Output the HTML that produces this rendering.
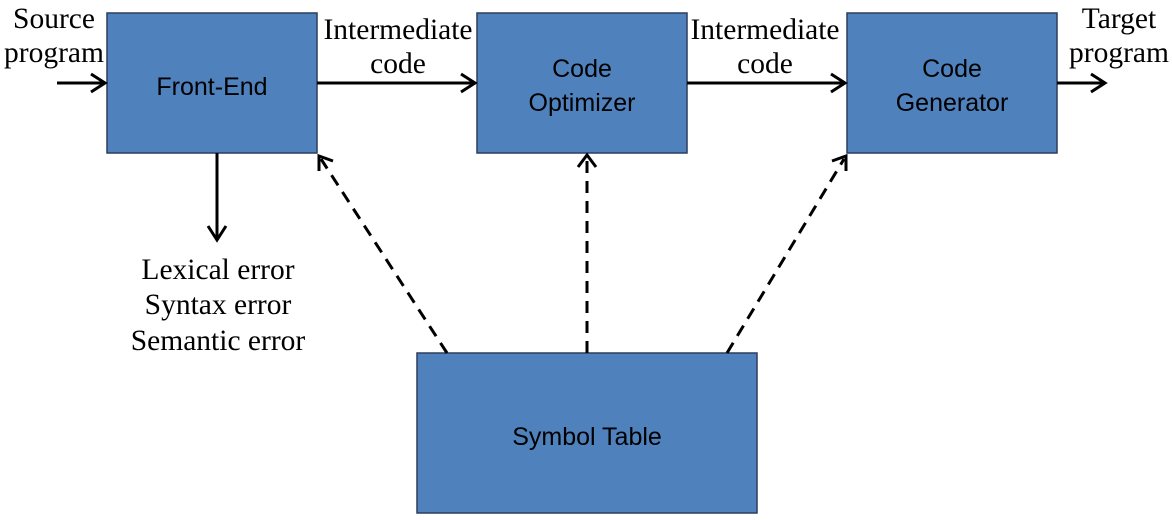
<!DOCTYPE html>
<html><head><meta charset="utf-8"><style>
body{margin:0;background:#fff;}
svg{display:block}
.b{fill:#4f81bd;stroke:#2b3d5c;stroke-width:1.5}
.t{font-family:"Liberation Sans",sans-serif;font-size:25px;fill:#000;text-anchor:middle}
.s{font-family:"Liberation Serif",serif;font-size:29.5px;fill:#000;text-anchor:middle}
.l{stroke:#000;stroke-width:3;fill:none}
.d{stroke:#000;stroke-width:3;fill:none;stroke-dasharray:12,8}
</style></head><body>
<svg width="1172" height="520" viewBox="0 0 1172 520">
<rect class="b" x="107" y="13" width="210" height="140"/>
<rect class="b" x="477" y="13" width="210" height="140"/>
<rect class="b" x="847" y="13" width="210" height="140"/>
<rect class="b" x="417" y="353" width="340" height="160"/>
<text class="t" x="212" y="95">Front-End</text>
<text class="t" x="582" y="77">Code</text>
<text class="t" x="582" y="111">Optimizer</text>
<text class="t" x="952" y="77">Code</text>
<text class="t" x="952" y="111">Generator</text>
<text class="t" x="587" y="445">Symbol Table</text>
<text class="s" x="54" y="28">Source</text>
<text class="s" x="54" y="62">program</text>
<text class="s" x="398" y="39">Intermediate</text>
<text class="s" x="398" y="73">code</text>
<text class="s" x="765" y="39">Intermediate</text>
<text class="s" x="765" y="73">code</text>
<text class="s" x="1119" y="28">Target</text>
<text class="s" x="1119" y="62">program</text>
<text class="s" x="218" y="279">Lexical error</text>
<text class="s" x="218" y="314">Syntax error</text>
<text class="s" x="218" y="350">Semantic error</text>
<g class="l">
<line x1="57" y1="83" x2="105" y2="83"/><polyline points="91,74 105,83 91,92"/>
<line x1="317" y1="83" x2="475" y2="83"/><polyline points="461,74 475,83 461,92"/>
<line x1="687" y1="83" x2="845" y2="83"/><polyline points="831,74 845,83 831,92"/>
<line x1="1057" y1="83" x2="1105" y2="83"/><polyline points="1091,74 1105,83 1091,92"/>
<line x1="217" y1="153" x2="217" y2="240"/><polyline points="208,226 217,240 226,226"/>
<polyline points="319,171 319,156 333,161"/>
<polyline points="578,167 587,155 596,167"/>
<polyline points="832,161 846,156 846,171"/>
</g>
<g class="d">
<line x1="447" y1="353" x2="321" y2="159"/>
<line x1="587" y1="353" x2="587" y2="158"/>
<line x1="727" y1="353" x2="844" y2="159"/>
</g>
</svg>
</body></html>
